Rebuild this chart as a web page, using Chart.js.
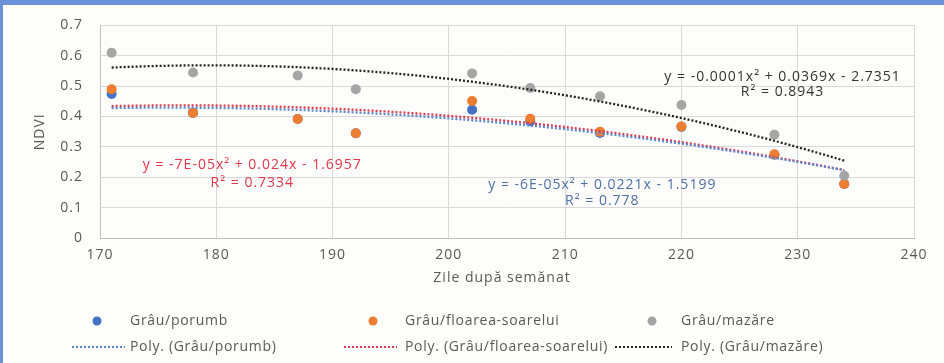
<!DOCTYPE html>
<html>
<head>
<meta charset="utf-8">
<script src="https://cdn.jsdelivr.net/npm/chart.js@4/dist/chart.umd.min.js"></script>
<style>
  html, body { margin: 0; padding: 0; background: #fff; }
  #wrap { width: 944px; height: 363px; }
</style>
</head>
<body>
<div id="wrap"><canvas id="ndvi" width="944" height="363"></canvas></div>
<script>
// days after sowing
const days = [171, 178, 187, 192, 202, 207, 213, 220, 228, 234];
const porumb = [0.474, 0.412, 0.392, 0.345, 0.422, 0.384, 0.346, 0.366, 0.274, 0.178];
const floarea = [0.49, 0.412, 0.392, 0.345, 0.451, 0.393, 0.35, 0.367, 0.276, 0.178];
const mazare = [0.61, 0.545, 0.535, 0.49, 0.542, 0.494, 0.467, 0.438, 0.34, 0.205];

const seriesNames = ['Grâu/porumb', 'Grâu/floarea-soarelui', 'Grâu/mazăre'];
const equations = [
  'y = -6E-05x² + 0.0221x - 1.5199',
  'y = -7E-05x² + 0.024x - 1.6957',
  'y = -0.0001x² + 0.0369x - 2.7351',
];
const rSquared = ['R² = 0.778', 'R² = 0.7334', 'R² = 0.8943'];

const BLUE = '#4472C4', ORANGE = '#ED7D31', GRAY = '#A5A5A5';
const T_BLUE = '#5b86d0', T_RED = '#e23a4c', T_BLACK = '#222';
const FONT = '"Open Sans", "Liberation Sans", sans-serif';

// least squares quadratic, same as the spreadsheet trendline
function polyFit2(xs, ys) {
  const n = xs.length;
  const m = xs.reduce((a, b) => a + b, 0) / n;
  const s = [0, 0, 0, 0, 0], t = [0, 0, 0];
  for (let i = 0; i < n; i++) {
    const u = xs[i] - m;
    for (let k = 0; k < 5; k++) s[k] += Math.pow(u, k);
    for (let k = 0; k < 3; k++) t[k] += ys[i] * Math.pow(u, k);
  }
  const A = [[s[0], s[1], s[2], t[0]], [s[1], s[2], s[3], t[1]], [s[2], s[3], s[4], t[2]]];
  for (let c = 0; c < 3; c++) {
    for (let r = c + 1; r < 3; r++) {
      const f = A[r][c] / A[c][c];
      for (let k = c; k < 4; k++) A[r][k] -= f * A[c][k];
    }
  }
  const co = [0, 0, 0];
  for (let r = 2; r >= 0; r--) {
    let v = A[r][3];
    for (let k = r + 1; k < 3; k++) v -= A[r][k] * co[k];
    co[r] = v / A[r][r];
  }
  return (x) => co[0] + co[1] * (x - m) + co[2] * (x - m) * (x - m);
}

function trend(ys) {
  const f = polyFit2(days, ys);
  const pts = [];
  for (let x = days[0]; x <= days[days.length - 1]; x++) pts.push({ x, y: f(x) });
  return pts;
}

const toPts = (ys) => days.map((d, i) => ({ x: d, y: ys[i] }));

const frameAndText = {
  id: 'frameAndText',
  beforeUpdate(chart) { chart.ctx.letterSpacing = '1px'; },
  beforeDraw(chart) {
    const { ctx, width, height } = chart;
    ctx.letterSpacing = '1px';
    ctx.save();
    ctx.fillStyle = '#fdfdfb';
    ctx.fillRect(0, 0, width, height);
    ctx.fillStyle = '#6d91d8';
    ctx.fillRect(0, 0, width, 5);
    ctx.fillRect(0, 0, 3, height);
    ctx.restore();
  },
  afterDraw(chart) {
    const { ctx, chartArea } = chart;
    const xs = chart.scales.x, ys = chart.scales.y;
    ctx.save();
    ctx.letterSpacing = '1px';
    ctx.font = '14px ' + FONT;
    ctx.textAlign = 'center';
    ctx.textBaseline = 'middle';

    // axis titles
    ctx.fillStyle = '#595959';
    ctx.fillText('Zile după semănat', (chartArea.left + chartArea.right) / 2 - 5, 278);
    ctx.save();
    ctx.translate(40, (chartArea.top + chartArea.bottom) / 2);
    ctx.rotate(-Math.PI / 2);
    ctx.fillText('NDVI', 0, 0);
    ctx.restore();

    // trendline equations
    const eqPos = [[213.2, 0.175, 0.123], [183.1, 0.240, 0.182], [228.7, 0.529, 0.48]];
    const eqCol = ['#4e6fa6', '#e0354a', '#333'];
    eqPos.forEach((p, i) => {
      ctx.fillStyle = eqCol[i];
      ctx.fillText(equations[i], xs.getPixelForValue(p[0]), ys.getPixelForValue(p[1]));
      ctx.fillText(rSquared[i], xs.getPixelForValue(p[0]), ys.getPixelForValue(p[2]));
    });

    // legend
    ctx.letterSpacing = '0.7px';
    ctx.textAlign = 'left';
    const cols = [[97, 72, 125, 130], [373, 344, 397, 405], [652, 615, 672, 681]];
    const mk = [BLUE, ORANGE, GRAY];
    const tl = [T_BLUE, T_RED, T_BLACK];
    cols.forEach((c, i) => {
      ctx.fillStyle = mk[i];
      ctx.beginPath();
      ctx.arc(c[0], 321, 4.5, 0, Math.PI * 2);
      ctx.fill();
      ctx.strokeStyle = tl[i];
      ctx.lineWidth = 2;
      ctx.setLineDash([2, 2]);
      ctx.beginPath();
      ctx.moveTo(c[1], 347);
      ctx.lineTo(c[2], 347);
      ctx.stroke();
      ctx.setLineDash([]);
      ctx.fillStyle = '#595959';
      ctx.fillText(seriesNames[i], c[3], 321);
      ctx.fillText('Poly. (' + seriesNames[i] + ')', c[3], 347);
    });
    ctx.restore();
  }
};

const scatterSet = (label, ys, color, order) => ({
  label, data: toPts(ys), backgroundColor: color, borderColor: color,
  pointRadius: 5, pointBorderWidth: 0, showLine: false, order,
});
const trendSet = (label, ys, color) => ({
  label, data: trend(ys), borderColor: color, borderWidth: 2.3, borderDash: [2, 2],
  pointRadius: 0, showLine: true, fill: false, order: 0,
});

new Chart(document.getElementById('ndvi'), {
  type: 'scatter',
  data: {
    datasets: [
      scatterSet(seriesNames[0], porumb, BLUE, 3),
      scatterSet(seriesNames[1], floarea, ORANGE, 2),
      scatterSet(seriesNames[2], mazare, GRAY, 1),
      trendSet('Poly. (' + seriesNames[0] + ')', porumb, T_BLUE),
      trendSet('Poly. (' + seriesNames[1] + ')', floarea, T_RED),
      trendSet('Poly. (' + seriesNames[2] + ')', mazare, T_BLACK),
    ],
  },
  options: {
    responsive: false,
    animation: false,
    devicePixelRatio: 1,
    layout: { padding: { left: 0, top: 23, right: 30, bottom: 0 } },
    scales: {
      x: {
        type: 'linear', min: 170, max: 240,
        ticks: { stepSize: 10, color: '#595959', font: { size: 14, family: FONT }, padding: 9 },
        grid: { color: '#d9d9d9', drawTicks: false },
        border: { color: '#bfbfbf' },
        afterFit: (s) => { s.height = 125; },
      },
      y: {
        min: 0, max: 0.7,
        ticks: {
          stepSize: 0.1, color: '#595959', font: { size: 14, family: FONT }, padding: 17,
          callback: (v) => (v === 0 ? '0' : v.toFixed(1)),
        },
        grid: { color: '#d9d9d9', drawTicks: false },
        border: { color: '#bfbfbf' },
        afterFit: (s) => { s.width = 100; },
      },
    },
    plugins: { legend: { display: false }, tooltip: { enabled: false } },
  },
  plugins: [frameAndText],
});
</script>
</body>
</html>
